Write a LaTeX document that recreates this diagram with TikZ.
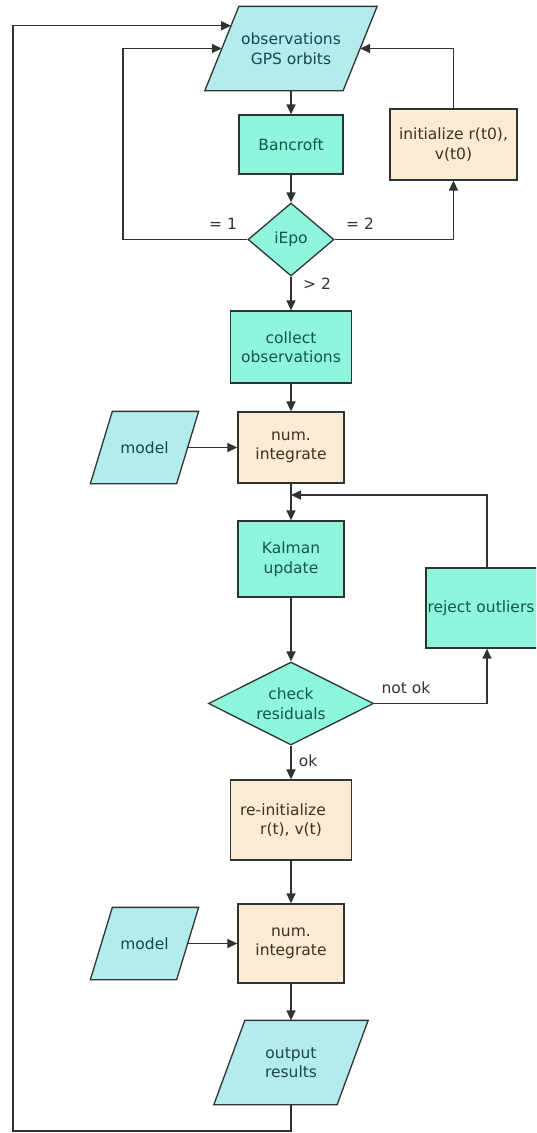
\documentclass[tikz,border=0pt]{standalone}
\usepackage{fontspec}
\setmainfont{DejaVu Sans}
\usetikzlibrary{arrows.meta,calc,backgrounds,shapes.geometric}
\definecolor{paracol}{RGB}{180,236,238}
\definecolor{tealcol}{RGB}{143,245,220}
\definecolor{creamcol}{RGB}{252,235,211}
\definecolor{edgecol}{RGB}{45,52,50}
\definecolor{tealtxt}{RGB}{18,88,72}
\definecolor{paratxt}{RGB}{22,70,82}
\definecolor{creamtxt}{RGB}{62,48,34}
\definecolor{labtxt}{RGB}{50,50,50}
\tikzset{
  base/.style={line width=1.3pt, inner sep=0pt, align=center,
    font=\fontsize{15.5}{19.5}\selectfont},
  procbox/.style={base, draw=edgecol, rectangle, fill=tealcol, text=tealtxt},
  initbox/.style={base, draw=edgecol, rectangle, fill=creamcol, text=creamtxt},
  iobox/.style={base, rectangle, text=paratxt},
  iopoly/.style={draw=edgecol, fill=paracol, line width=1.3pt, line join=miter},
  decbox/.style={base, draw=edgecol, diamond, fill=tealcol, text=tealtxt},
  conn/.style={draw=edgecol, line width=1.4pt, -{Triangle[length=10pt,width=9pt]}},
  lab/.style={text=labtxt, font=\fontsize{15.5}{19.5}\selectfont, inner sep=0pt}
}
\newcommand{\drawpara}[2]{%
  \path[iopoly] ($(#1.north west)+(#2,0)$) -- (#1.north east)
    -- ($(#1.south east)-(#2,0)$) -- (#1.south west) -- cycle;}
\begin{document}
\begin{tikzpicture}[x=1pt,y=-1pt]
\useasboundingbox (0,0) rectangle (536,1133);
\clip (0,0) rectangle (536,1133);
% nodes
\node[iobox, minimum width=171pt, minimum height=83pt] (obs) at (291,48.5) {observations\\GPS orbits};
\node[procbox, minimum width=104pt, minimum height=59pt] (banc) at (291,144.5) {Bancroft};
\node[decbox, minimum width=86pt, minimum height=73pt] (iepo) at (291,239.5) {iEpo};
\node[initbox, minimum width=127pt, minimum height=71pt] (init) at (453.5,144.5) {initialize r(t0),\\v(t0)};
\node[procbox, minimum width=121pt, minimum height=72pt] (coll) at (291,347) {collect\\observations};
\node[initbox, minimum width=106pt, minimum height=71pt] (num1) at (291,447.5) {num.\\integrate};
\node[iobox, minimum width=107pt, minimum height=71pt] (mod1) at (144.5,447.5) {model};
\node[procbox, minimum width=106pt, minimum height=76pt] (kal) at (291,559) {Kalman\\update};
\node[decbox, aspect=2, minimum width=165pt, minimum height=83pt] (chk) at (291,703.5) {check\\residuals};
\node[procbox, minimum width=122pt, minimum height=80pt] (rej) at (487,608) {\hspace*{-12pt}reject outliers};
\node[initbox, minimum width=121pt, minimum height=80pt] (reinit) at (291,820) {\hbox{re-initialize\kern16pt}\\r(t), v(t)};
\node[initbox, minimum width=106pt, minimum height=79pt] (num2) at (291,943.5) {num.\\integrate};
\node[iobox, minimum width=107pt, minimum height=71pt] (mod2) at (144.5,943.5) {model};
\node[iobox, minimum width=153pt, minimum height=83pt] (out) at (291,1062.5) {output\\results};
% parallelogram outlines behind the texts
\begin{scope}[on background layer]
  \drawpara{obs}{34}
  \drawpara{mod1}{22}
  \drawpara{mod2}{22}
  \drawpara{out}{31}
\end{scope}
% helper coordinates (points on the slanted edges)
\coordinate (obsleft) at ($(obs.west)+(17,0)$);
\coordinate (obsright) at ($(obs.east)-(17,0)$);
\coordinate (obsin) at ($(obs.north west)!0.23!(obs.south west)+(26.2,0)$);
\coordinate (mod1r) at ($(mod1.east)-(11,0)$);
\coordinate (mod2r) at ($(mod2.east)-(11,0)$);
\coordinate (innerleft) at (123,48.5);
\coordinate (junc) at (291,495);
\coordinate (bottomleft) at (13,1131);
% labels
\node[lab] (l1) at (223,224) {= 1};
\node[lab] (l2) at (360,224) {= 2};
\node[lab] (l3) at (317,284) {> 2};
\node[lab] (l4) at (406,688) {not ok};
\node[lab] (l5) at (308,761) {ok};
% connectors
\draw[conn] (obs.south) -- (banc.north);
\draw[conn] (banc) -- (iepo);
\draw[conn] (iepo.west) -| (innerleft) -- (obsleft);
\draw[conn] (iepo.east) -| (init.south);
\draw[conn] (init.north) |- (obsright);
\draw[conn] (iepo.south) -- (coll.north);
\draw[conn] (coll) -- (num1);
\draw[conn] (mod1r) -- (num1.west);
\draw[conn] (num1) -- (kal);
\draw[conn] (rej.north) |- (junc);
\draw[conn] (kal) -- (chk);
\draw[conn] (chk.east) -| (rej.south);
\draw[conn] (chk.south) -- (reinit.north);
\draw[conn] (reinit) -- (num2);
\draw[conn] (mod2r) -- (num2.west);
\draw[conn] (num2.south) -- (out.north);
\draw[conn] (out.south) |- (bottomleft) |- (obsin);
\end{tikzpicture}
\end{document}
